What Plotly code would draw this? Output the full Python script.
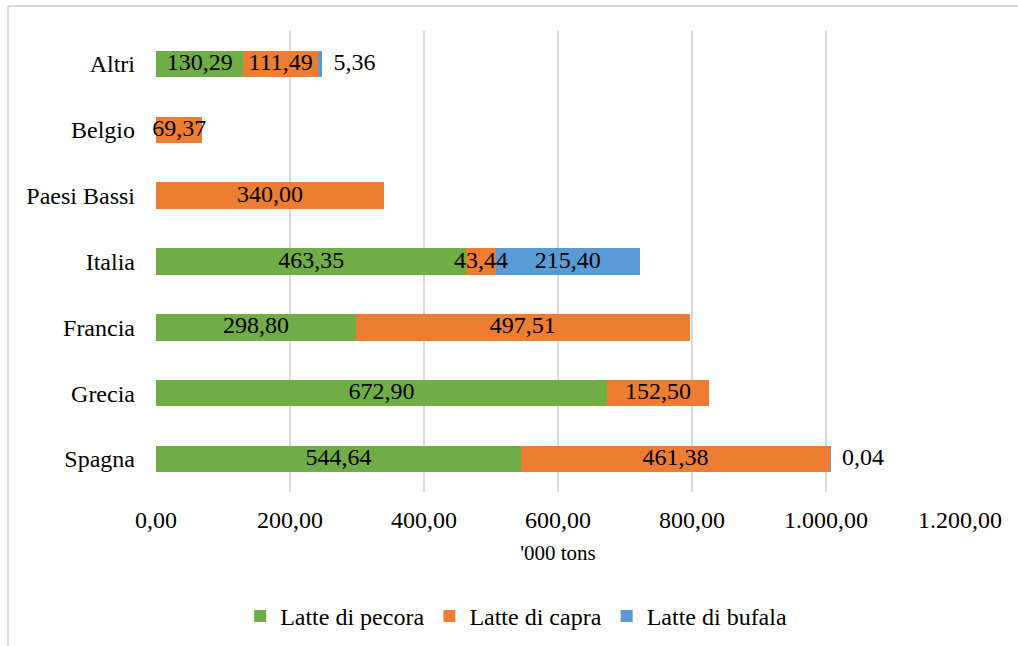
import plotly.graph_objects as go

# Paesi produttori (dal basso verso l'alto)
paesi = ["Spagna", "Grecia", "Francia", "Italia", "Paesi Bassi", "Belgio", "Altri"]

# Produzione in migliaia di tonnellate
latte_pecora = [544.64, 672.90, 298.80, 463.35, 0, 0, 130.29]
latte_capra = [461.38, 152.50, 497.51, 43.44, 340.00, 69.37, 111.49]
latte_bufala = [0.04, 0, 0, 215.40, 0, 0, 5.36]

x_ticks = [0, 200, 400, 600, 800, 1000, 1200]

FONT = "Liberation Serif"
TXT = 24


def fmt_it(v):
    s = f"{v:,.2f}"
    return s.replace(",", "X").replace(".", ",").replace("X", ".")


fig = go.Figure()

series = [
    ("Latte di pecora", latte_pecora, "#70AD47"),
    ("Latte di capra", latte_capra, "#ED7D31"),
    ("Latte di bufala", latte_bufala, "#5B9BD5"),
]
for name, vals, color in series:
    fig.add_trace(go.Bar(
        y=paesi, x=vals, name=name, orientation="h",
        marker=dict(color=color, line=dict(width=0)),
        hoverinfo="x+name",
    ))

# Etichette dei valori, disegnate sopra tutte le barre
in_x, in_y, in_t = [], [], []
out_x, out_y, out_t = [], [], []
base = [0.0] * len(paesi)
for _, vals, _ in series:
    for i, v in enumerate(vals):
        if v:
            if v >= 20:
                in_x.append(base[i] + v / 2)
                in_y.append(paesi[i])
                in_t.append(fmt_it(v))
            else:
                out_x.append(base[i] + v)
                out_y.append(paesi[i])
                out_t.append("\u00a0\u00a0" + fmt_it(v))
        base[i] += v

fig.add_trace(go.Scatter(
    x=in_x, y=in_y, text=in_t, mode="text", textposition="middle center",
    textfont=dict(family=FONT, size=TXT, color="#000000"),
    showlegend=False, hoverinfo="skip", cliponaxis=False,
))
fig.add_trace(go.Scatter(
    x=out_x, y=out_y, text=out_t, mode="text", textposition="middle right",
    textfont=dict(family=FONT, size=TXT, color="#000000"),
    showlegend=False, hoverinfo="skip", cliponaxis=False,
))

fig.update_layout(
    width=1018, height=646,
    barmode="stack", bargap=0.6,
    separators=",.",
    paper_bgcolor="white", plot_bgcolor="white",
    font=dict(family=FONT, size=TXT, color="#000000"),
    margin=dict(l=156, r=58, t=31, b=154),
    showlegend=True,
    legend=dict(
        orientation="h", xref="container", yref="container",
        x=0.507, xanchor="center", y=0.046, yanchor="middle",
        font=dict(family=FONT, size=TXT, color="#000000"),
        traceorder="normal", itemwidth=30,
    ),
    xaxis=dict(
        range=[0, 1200], tickvals=x_ticks, tickformat=",.2f",
        showgrid=True, gridcolor="#D9D9D9", gridwidth=1.5,
        zeroline=False, showline=False, ticks="", automargin=False,
        ticklabelstandoff=11,
        title=dict(text="'000 tons", font=dict(family=FONT, size=21, color="#000000"), standoff=13),
    ),
    yaxis=dict(
        showgrid=False, zeroline=False, showline=False, ticks="", automargin=False,
        ticklabelstandoff=20,
    ),
    shapes=[
        dict(type="line", xref="paper", yref="paper", x0=-0.184, x1=1.2, y0=1.054, y1=1.054,
             line=dict(color="#D9D9D9", width=2)),
        dict(type="line", xref="paper", yref="paper", x0=-0.184, x1=-0.184, y0=1.054, y1=-0.4,
             line=dict(color="#D9D9D9", width=2)),
    ],
)

fig.write_html("out.html")
